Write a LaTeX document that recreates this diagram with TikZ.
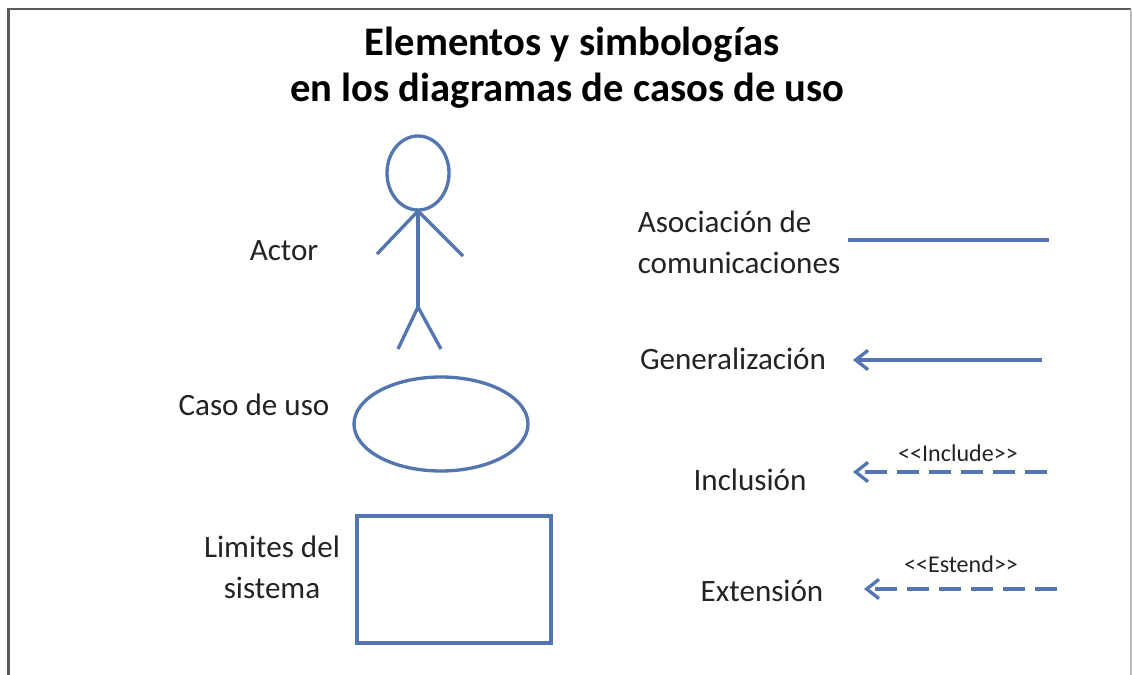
\documentclass[tikz,border=0pt]{standalone}
\usepackage{fontspec}
\setmainfont{Carlito}
\usetikzlibrary{arrows.meta}
\definecolor{simbolo}{RGB}{84,118,176}
\definecolor{marco}{RGB}{90,90,90}
\definecolor{letra}{RGB}{35,35,35}
\tikzset{
	etiqueta/.style={text=letra, inner sep=0pt, font=\fontsize{17.7}{23.5}\selectfont},
	rotulo/.style={text=letra, inner sep=0pt, font=\fontsize{13.7}{15}\selectfont},
	titulo/.style={text=black, inner sep=0pt, font=\fontsize{23.1}{26}\selectfont\bfseries},
	trazo/.style={simbolo, line width=1.9pt},
	flecha/.style={trazo, -{Straight Barb[length=7pt,width=11pt,line width=1.9pt]}},
	rayada/.style={flecha, dash pattern=on 12.5pt off 5.7pt}
}
\begin{document}
\begin{tikzpicture}[x=0.02cm,y=-0.02cm]
	\useasboundingbox (0,0) rectangle (1132,675);
	\draw [marco, line width=1.3pt] (8.5,675)-- (8.5,9)-- (1131,9);
	\draw [marco!40, line width=0.8pt] (1131,9)-- (1131,675);

	\node[titulo] (titulo) at (572,45) {Elementos y simbologías};
	\node[titulo] (subtitulo) at (567.5,91) {en los diagramas de casos de uso};

	\draw [trazo] (418,173) ellipse (31 and 37);
	\coordinate (cuello) at (418,211);
	\coordinate (manoizq) at (377,254);
	\coordinate (manoder) at (463,256);
	\coordinate (cadera) at (418,307);
	\coordinate (pieizq) at (398,349);
	\coordinate (pieder) at (441,349);
	\draw [trazo] (manoizq)-- (cuello)-- (manoder);
	\draw [trazo] (cuello)-- (cadera);
	\draw [trazo] (pieizq)-- (cadera)-- (pieder);
	\node[etiqueta] (actor) at (284,251) {Actor};

	\node[etiqueta] (caso) at (254,405) {Caso de uso};
	\draw [trazo] (441,424) ellipse (87 and 47);

	\node[etiqueta, align=center] (limites) at (272,567) {Limites del\\sistema};
	\draw [trazo] (357,516) rectangle (551,643);

	\node[etiqueta, align=left] (asociacion) at (739,242) {Asociación de\\comunicaciones};
	\coordinate (asocini) at (848,240);
	\coordinate (asocfin) at (1049,240);
	\draw [trazo] (asocini)-- (asocfin);

	\node[etiqueta] (generalizacion) at (733,359) {Generalización};
	\coordinate (genini) at (1042,360);
	\coordinate (genfin) at (853,360);
	\draw [flecha] (genini)-- (genfin);

	\node[etiqueta] (inclusion) at (750,480) {Inclusión};
	\node[rotulo] (include) at (958,453) {{<}{<}Include{>}{>}};
	\coordinate (incini) at (1047,472);
	\coordinate (incfin) at (853,472);
	\draw [rayada] (incini)-- (incfin);

	\node[etiqueta] (extension) at (762,591) {Extensión};
	\node[rotulo] (estend) at (961,564) {{<}{<}Estend{>}{>}};
	\coordinate (extini) at (1057,589);
	\coordinate (extfin) at (864,589);
	\draw [rayada] (extini)-- (extfin);
\end{tikzpicture}
\end{document}
